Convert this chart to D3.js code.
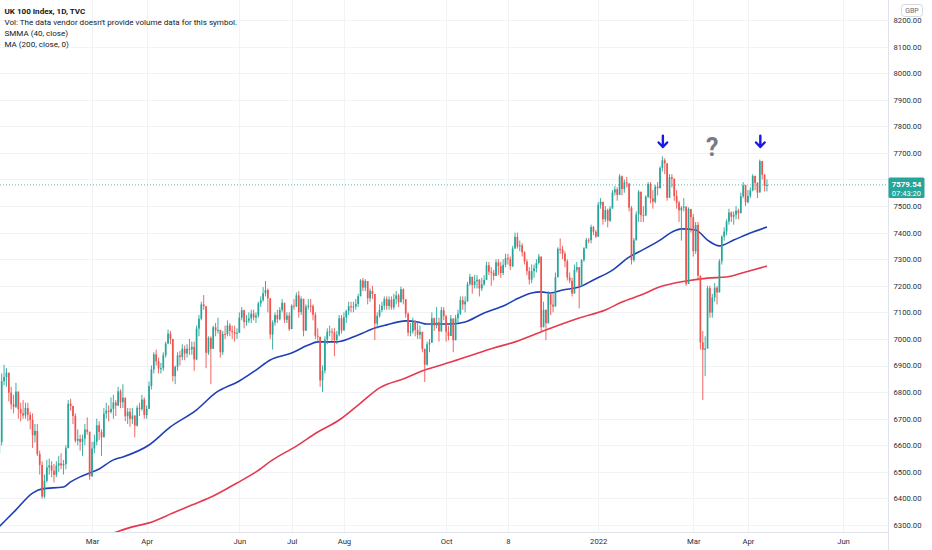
<!DOCTYPE html>
<html>
<head>
<meta charset="utf-8">
<title>UK 100 Index, 1D, TVC</title>
<script src="https://cdn.jsdelivr.net/npm/d3@7"></script>
<style>
  body { margin: 0; background: #ffffff; }
  svg { display: block; font-family: Roboto, "Noto Sans", sans-serif; }
</style>
</head>
<body>
<svg id="chart" width="932" height="550"></svg>
<script>
// daily candles, [open, high, low, close]
const jan21 = [
  [6460,6614,6440,6571],[6571,6633,6514,6612],[6612,6870,6600,6841],[6841,6903,6825,6857],
  [6857,6890,6820,6873],[6873,6873,6765,6798],[6798,6820,6735,6754],[6754,6790,6720,6745],
  [6745,6835,6740,6802],[6802,6802,6700,6736],[6736,6760,6690,6720],[6720,6770,6700,6712],
  [6712,6760,6700,6740],[6740,6760,6690,6715],[6715,6725,6660,6695],[6695,6720,6590,6638],
  [6638,6680,6610,6654],[6654,6680,6560,6567],[6567,6580,6490,6526],[6526,6540,6400,6407]]
const feb21 = [
  [6407,6490,6400,6466],[6466,6545,6460,6517],[6517,6550,6490,6524],[6524,6540,6480,6504],
  [6504,6530,6460,6489],[6489,6540,6480,6524],[6524,6560,6500,6532],[6532,6570,6510,6524],
  [6524,6545,6490,6529],[6529,6600,6510,6589],[6589,6770,6589,6756],[6756,6775,6730,6748],
  [6748,6748,6680,6710],[6710,6720,6610,6617],[6617,6660,6600,6624],[6624,6640,6580,6612],
  [6612,6640,6560,6625],[6625,6680,6600,6659],[6659,6705,6640,6651],[6651,6651,6470,6483]]
const mar21 = [
  [6483,6613,6483,6588],[6588,6640,6570,6613],[6613,6700,6600,6675],[6675,6690,6620,6650],
  [6650,6660,6560,6630],[6630,6740,6630,6719],[6719,6760,6700,6730],[6730,6750,6690,6725],
  [6725,6780,6720,6737],[6737,6790,6700,6761],[6761,6770,6710,6749],[6749,6820,6749,6803],
  [6803,6810,6740,6762],[6762,6830,6740,6779],[6779,6779,6690,6709],[6709,6740,6680,6726],
  [6726,6740,6670,6699],[6699,6740,6680,6712],[6712,6712,6630,6674],[6674,6750,6670,6741],
  [6741,6760,6710,6736],[6736,6790,6730,6772],[6772,6780,6700,6714]]
const apr21 = [
  [6714,6750,6700,6737],[6737,6840,6737,6823],[6823,6900,6810,6885],[6885,6950,6870,6942],
  [6942,6960,6900,6916],[6916,6930,6870,6889],[6889,6910,6870,6890],[6890,6950,6880,6939],
  [6939,6990,6930,6983],[6983,7035,6980,7020],[7020,7030,6980,7000],[7000,7000,6840,6860],
  [6860,6900,6830,6895],[6895,6950,6880,6938],[6938,6955,6900,6932],[6932,6980,6920,6963],
  [6963,6975,6920,6945],[6945,6980,6930,6963],[6963,7000,6940,6961],[6961,6990,6940,6970]]
const may21 = [
  [6970,6990,6880,6923],[6923,7050,6920,7039],[7039,7090,7010,7076],[7076,7140,7070,7130],
  [7130,7165,7110,7123],[7123,7123,6890,6948],[6948,7010,6940,7004],[7004,7010,6830,6963],
  [6963,7050,6963,7044],[7044,7060,7010,7032],[7032,7080,7020,7034],[7034,7034,6930,6950],
  [6950,7030,6940,7019],[7019,7050,7000,7018],[7018,7070,7010,7051],[7051,7060,7010,7030],
  [7030,7050,7000,7026],[7026,7050,6990,7020],[7020,7040,7000,7023]]
const jun21 = [
  [7023,7100,7023,7080],[7080,7120,7070,7108],[7108,7110,7040,7064],[7064,7090,7050,7069],
  [7069,7100,7060,7077],[7077,7110,7060,7095],[7095,7110,7070,7081],[7081,7100,7060,7088],
  [7088,7140,7080,7134],[7134,7160,7120,7146],[7146,7195,7140,7172],[7172,7218,7160,7184],
  [7184,7190,7100,7153],[7153,7153,7000,7017],[7017,7070,6960,7062],[7062,7100,7050,7090],
  [7090,7110,7060,7074],[7074,7120,7070,7109],[7109,7150,7100,7136],[7136,7136,7060,7072],
  [7072,7100,7060,7088],[7088,7100,7030,7037]]
const jul21 = [
  [7037,7130,7037,7125],[7125,7150,7110,7123],[7123,7175,7120,7164],[7164,7180,7080,7101],
  [7101,7160,7090,7151],[7151,7151,7010,7031],[7031,7130,7031,7122],[7122,7150,7110,7125],
  [7125,7150,7100,7124],[7124,7130,7070,7091],[7091,7100,7000,7012],[7012,7040,6990,7008],
  [7008,7008,6820,6844],[6844,6900,6800,6881],[6881,7010,6870,6998],[6998,7040,6980,7027],
  [7027,7050,7010,7028],[7028,7040,6990,7025],[7025,7040,6935,6996],[6996,7030,6980,7016],
  [7016,7090,7010,7078],[7078,7090,7020,7032]]
const aug21 = [
  [7032,7100,7032,7081],[7081,7110,7060,7105],[7105,7140,7090,7123],[7123,7140,7100,7120],
  [7120,7140,7100,7122],[7122,7150,7110,7132],[7132,7170,7120,7161],[7161,7225,7160,7220],
  [7220,7230,7180,7193],[7193,7225,7180,7218],[7218,7218,7130,7153],[7153,7190,7140,7181],
  [7181,7200,7150,7169],[7169,7169,6996,7058],[7058,7100,7040,7087],[7087,7130,7080,7109],
  [7109,7140,7100,7125],[7125,7160,7110,7150],[7150,7160,7110,7124],[7124,7160,7110,7148],
  [7148,7160,7110,7119]]
const sep21 = [
  [7119,7170,7110,7150],[7150,7180,7130,7164],[7164,7170,7120,7138],[7138,7197,7138,7187],
  [7187,7190,7130,7149],[7149,7150,7080,7095],[7095,7100,7010,7024],[7024,7060,7010,7029],
  [7029,7080,7020,7068],[7068,7070,7010,7034],[7034,7060,7000,7016],[7016,7050,7000,7027],
  [7027,7027,6950,6963],[6963,6963,6838,6903],[6903,6990,6900,6980],[6980,7000,6950,6986],
  [6986,7100,6986,7078],[7078,7080,7030,7051],[7051,7120,7040,7063],[7063,7080,6990,7028],
  [7028,7120,7028,7108],[7108,7120,7070,7086]]
const oct21 = [
  [7086,7090,6990,7027],[7027,7050,6995,7011],[7011,7090,7011,7077],[7077,7077,6950,6995],
  [6995,7090,6995,7078],[7078,7110,7060,7095],[7095,7160,7090,7146],[7146,7160,7110,7130],
  [7130,7160,7100,7141],[7141,7215,7141,7207],[7207,7245,7200,7234],[7234,7234,7170,7203],
  [7203,7240,7190,7217],[7217,7240,7190,7223],[7223,7225,7160,7190],[7190,7230,7180,7205],
  [7205,7240,7200,7222],[7222,7290,7222,7277],[7277,7290,7240,7253],[7253,7270,7200,7249],
  [7249,7260,7220,7237]]
const nov21 = [
  [7237,7300,7237,7288],[7288,7300,7240,7274],[7274,7290,7230,7248],[7248,7300,7240,7279],
  [7279,7320,7270,7304],[7304,7320,7280,7300],[7300,7310,7260,7274],[7274,7350,7270,7340],
  [7340,7400,7340,7384],[7384,7400,7340,7348],[7348,7370,7330,7352],[7352,7360,7310,7326],
  [7326,7330,7280,7291],[7291,7300,7240,7255],[7255,7270,7205,7223],[7223,7280,7210,7255],
  [7255,7280,7230,7266],[7266,7300,7250,7286],[7286,7320,7280,7310],[7310,7310,7030,7044],
  [7044,7140,7044,7110],[7110,7110,6995,7059]]
const dec21 = [
  [7059,7180,7059,7168],[7168,7168,7090,7129],[7129,7170,7100,7122],[7122,7250,7122,7232],
  [7232,7345,7232,7339],[7339,7378,7320,7337],[7337,7350,7300,7321],[7321,7330,7270,7292],
  [7292,7300,7220,7231],[7231,7250,7210,7219],[7219,7230,7160,7171],[7171,7280,7171,7260],
  [7260,7290,7250,7270],[7270,7270,7115,7198],[7198,7300,7198,7297],[7297,7345,7290,7341],
  [7341,7380,7340,7373],[7373,7380,7360,7372],[7372,7430,7360,7421],[7421,7425,7390,7403],
  [7403,7410,7380,7385]]
const jan22 = [
  [7385,7515,7385,7505],[7505,7530,7490,7516],[7516,7516,7430,7450],[7450,7500,7440,7485],
  [7485,7490,7420,7445],[7445,7500,7440,7491],[7491,7560,7490,7551],[7551,7575,7540,7563],
  [7563,7570,7520,7542],[7542,7620,7542,7612],[7612,7615,7540,7564],[7564,7600,7550,7589],
  [7589,7610,7570,7585],[7585,7585,7480,7494],[7494,7500,7280,7297],[7297,7380,7290,7371],
  [7371,7480,7371,7469],[7469,7560,7440,7554],[7554,7554,7440,7466],[7466,7500,7440,7464]]
const feb22 = [
  [7464,7540,7464,7535],[7535,7590,7530,7583],[7583,7590,7510,7529],[7529,7560,7490,7516],
  [7516,7580,7510,7573],[7573,7590,7540,7567],[7567,7650,7567,7643],[7643,7687,7630,7672],
  [7672,7680,7620,7661],[7661,7661,7520,7531],[7531,7620,7531,7609],[7609,7620,7570,7603],
  [7603,7603,7520,7537],[7537,7560,7490,7513],[7513,7520,7440,7484],[7484,7500,7370,7494],
  [7494,7530,7480,7498],[7498,7498,7200,7207],[7207,7495,7207,7489],[7489,7489,7400,7458]]
const mar22 = [
  [7458,7470,7310,7330],[7330,7440,7320,7429],[7429,7440,7220,7238],[7238,7238,6960,6987],
  [6987,7030,6770,6959],[6959,7010,6860,6964],[6964,7200,6964,7191],[7191,7200,7080,7099],
  [7099,7170,7080,7156],[7156,7210,7140,7193],[7193,7200,7130,7175],[7175,7300,7175,7292],
  [7292,7390,7280,7385],[7385,7420,7370,7404],[7404,7450,7390,7442],[7442,7490,7430,7476],
  [7476,7480,7440,7460],[7460,7480,7430,7467],[7467,7500,7450,7483],[7483,7490,7450,7473],
  [7473,7550,7473,7537],[7537,7590,7530,7578],[7578,7580,7500,7515]]
const apr22 = [
  [7515,7560,7510,7538],[7538,7570,7530,7559],[7559,7620,7555,7613],[7613,7615,7560,7587],
  [7587,7590,7530,7551],[7551,7675,7551,7669],[7669,7670,7600,7618],[7618,7620,7555,7576],
  [7576,7600,7555,7579.54]]

const candles = [].concat(jan21, feb21, mar21, apr21, may21, jun21, jul21, aug21,
  sep21, oct21, nov21, dec21, jan22, feb22, mar22, apr22)

// SMMA (40, close): candle index, value
const smmaIdx = [0, 8, 15, 19, 28, 31, 35, 39, 43, 49, 53, 64, 73, 84, 92, 102, 109, 115, 124,
  131, 135, 143, 152, 159, 164, 172, 177, 181, 191, 197, 205, 214, 218, 225, 229, 233, 238,
  245, 251, 259, 266, 270, 279, 284, 288, 294, 299, 304, 310, 317, 324]
const smmaVal = [6285, 6357, 6420, 6436, 6443, 6462, 6481, 6496, 6511, 6545, 6556, 6601, 6669,
  6733, 6797, 6842, 6883, 6921, 6947, 6977, 6989, 6989, 7015, 7041, 7053, 7068, 7064, 7056,
  7056, 7064, 7098, 7128, 7147, 7173, 7177, 7173, 7184, 7195, 7222, 7259, 7308, 7327, 7372,
  7402, 7414, 7410, 7372, 7350, 7372, 7399, 7421]

// MA (200, close)
const maIdx = [45, 49, 57, 64, 74, 82, 91, 101, 109, 116, 126, 135, 144, 153, 161, 172, 180,
  191, 200, 209, 218, 231, 245, 256, 263, 271, 279, 290, 299, 307, 315, 324]
const maVal = [6258, 6270, 6293, 6308, 6345, 6375, 6409, 6458, 6500, 6545, 6597, 6650, 6695,
  6759, 6816, 6853, 6883, 6913, 6940, 6966, 6989, 7034, 7079, 7109, 7139, 7165, 7196, 7218,
  7229, 7233, 7252, 7274]

// time axis labels and the candle index they sit on
const tickLabels = ["Mar", "Apr", "Jun", "Jul", "Aug", "Oct", "8", "2022", "Mar", "Apr", "Jun"]
const tickIdx = [40, 63, 102, 124, 146, 189, 215, 253, 293, 316, 356]
const priceTicks = d3.range(6300, 8201, 100)
const lastPrice = 7579.54
const countdown = "07:43:20"

const legendLines = ["UK 100 Index, 1D, TVC",
  "Vol: The data vendor doesn't provide volume data for this symbol.",
  "SMMA (40, close)",
  "MA (200, close, 0)"]

const upColor = "#26a69a", downColor = "#ef5350"
const plotW = 888, plotH = 532

const svg = d3.select("#chart")
const x = d3.scaleLinear().domain([40, 356]).range([92, 843])
const y = d3.scaleLinear().domain([6300, 8200]).range([525, 20])
const ly = y(lastPrice)

const defs = svg.append("defs")
defs.append("clipPath").attr("id", "plotClip")
  .append("rect").attr("x", 0).attr("y", 0).attr("width", plotW).attr("height", plotH)
// the price tag hides the lower half of the nearest axis label
defs.append("clipPath").attr("id", "tagClip")
  .append("rect").attr("x", -10).attr("y", 0).attr("width", 60).attr("height", ly - 7.5)

// grid
const grid = svg.append("g")
grid.selectAll("line.h").data(priceTicks).join("line")
  .attr("x1", 0).attr("x2", plotW)
  .attr("y1", d => Math.round(y(d)) + 0.5).attr("y2", d => Math.round(y(d)) + 0.5)
  .attr("stroke", "#f2f3f6")
grid.selectAll("line.v").data(tickIdx).join("line")
  .attr("x1", d => Math.round(x(d)) + 0.5).attr("x2", d => Math.round(x(d)) + 0.5)
  .attr("y1", 0).attr("y2", plotH)
  .attr("stroke", "#f2f3f6")

const plot = svg.append("g").attr("clip-path", "url(#plotClip)")

// moving averages
const maLine = d3.line().x(d => x(d[0])).y(d => y(d[1])).curve(d3.curveMonotoneX)
plot.append("path").datum(d3.zip(maIdx, maVal))
  .attr("d", maLine).attr("fill", "none").attr("stroke", "#e5394f").attr("stroke-width", 1.6)
plot.append("path").datum(d3.zip(smmaIdx, smmaVal))
  .attr("d", maLine).attr("fill", "none").attr("stroke", "#1f3fb5").attr("stroke-width", 1.6)

// candles
const bw = 1.7
plot.selectAll("line.wick").data(candles).join("line")
  .attr("class", "wick")
  .attr("x1", (d, i) => x(i)).attr("x2", (d, i) => x(i))
  .attr("y1", d => y(d[1])).attr("y2", d => y(d[2]))
  .attr("stroke", d => d[3] >= d[0] ? upColor : downColor)
  .attr("stroke-width", 0.9)
plot.selectAll("rect.body").data(candles).join("rect")
  .attr("class", "body")
  .attr("x", (d, i) => x(i) - bw / 2).attr("width", bw)
  .attr("y", d => y(Math.max(d[0], d[3])))
  .attr("height", d => Math.max(1, Math.abs(y(d[0]) - y(d[3]))))
  .attr("fill", d => d[3] >= d[0] ? upColor : downColor)

// last price line
plot.append("line")
  .attr("x1", 0).attr("x2", plotW).attr("y1", ly).attr("y2", ly)
  .attr("stroke", upColor).attr("stroke-width", 0.8).attr("stroke-dasharray", "1 2")

// annotations: two arrows on the tops and a question mark
const arrowAt = [280, 321]
const arrows = svg.append("g").attr("fill", "none").attr("stroke", "#1a1ae8")
  .attr("stroke-width", 2.4).attr("stroke-linecap", "round").attr("stroke-linejoin", "round")
arrowAt.forEach(i => {
  const cx = x(i) + 0.5, top = y(7765), bot = y(7722)
  arrows.append("path").attr("d", `M${cx},${top}V${bot}M${cx - 4.3},${bot - 4.6}L${cx},${bot}L${cx + 4.3},${bot - 4.6}`)
})
svg.append("text").attr("x", x(301)).attr("y", y(7690))
  .attr("text-anchor", "middle").attr("font-size", 25).attr("font-weight", 700)
  .attr("fill", "#787b86").text("?")

// price axis
const yAxis = svg.append("g").attr("transform", `translate(${plotW + 0.5},0)`)
  .call(d3.axisRight(y).tickValues(priceTicks).tickFormat(d3.format(".2f")).tickSize(0).tickPadding(5))
yAxis.select(".domain").attr("stroke", "#e0e3eb").attr("d", `M0,0V${550}`)
yAxis.selectAll("text").attr("font-size", 7.7).attr("fill", "#2a2e39")
  .attr("font-family", "Roboto, 'Noto Sans', sans-serif")
yAxis.selectAll(".tick").filter(d => Math.abs(y(d) - ly) < 12)
  .attr("clip-path", "url(#tagClip)")

// time axis
const xAxis = svg.append("g").attr("transform", `translate(0,${plotH + 0.5})`)
  .call(d3.axisBottom(x).tickValues(tickIdx).tickFormat((d, i) => tickLabels[i]).tickSize(0).tickPadding(6))
xAxis.select(".domain").attr("stroke", "#e0e3eb").attr("d", `M0,0H${plotW}`)
xAxis.selectAll("text").attr("font-size", 7.7).attr("fill", "#2a2e39")
  .attr("font-family", "Roboto, 'Noto Sans', sans-serif")

// currency tag
svg.append("rect").attr("x", 901.5).attr("y", 4.5).attr("width", 21).attr("height", 12).attr("rx", 3)
  .attr("fill", "#fff").attr("stroke", "#d6d8de")
svg.append("text").attr("x", 912).attr("y", 13.2).attr("text-anchor", "middle")
  .attr("font-size", 7).attr("fill", "#6a6d78").text("GBP")

// last price label
svg.append("rect").attr("x", plotW + 0.5).attr("y", ly - 7.5).attr("width", 36).attr("height", 20.5)
  .attr("rx", 1.5).attr("fill", upColor)
svg.append("text").attr("x", plotW + 18.5).attr("y", ly + 2.2).attr("text-anchor", "middle")
  .attr("font-size", 7.9).attr("font-weight", 700).attr("fill", "#fff").text(d3.format(".2f")(lastPrice))
svg.append("text").attr("x", plotW + 18.5).attr("y", ly + 10.8).attr("text-anchor", "middle")
  .attr("font-size", 7.6).attr("fill", "#fff").text(countdown)

// legend
const legend = svg.append("g").attr("fill", "#131722")
const lt = legend.selectAll("text").data(legendLines).join("text")
  .attr("x", 4.5).attr("y", (d, i) => 13.5 + i * 11)
  .attr("font-size", 9).attr("font-weight", (d, i) => i === 0 ? 700 : 400)
  .text(d => d)
const fit = 233 / lt.nodes()[1].getComputedTextLength()
lt.attr("font-size", 9 * fit)
</script>
</body>
</html>
